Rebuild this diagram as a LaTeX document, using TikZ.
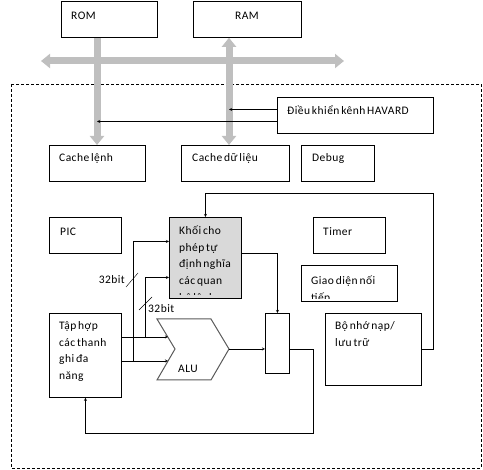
\documentclass[tikz,border=0pt]{standalone}
\usepackage{fontspec}
\setmainfont{Carlito}[LetterSpace=4,WordSpace=0.6]
\usepackage{tikz}
\usetikzlibrary{arrows.meta}

\tikzset{
	blk/.style={draw,line width=0.8pt,inner sep=0,anchor=north west},
	lbl/.style={font=\fontsize{11.5}{16.7}\selectfont,inner sep=0,anchor=base west},
	bus/.style={gray!50,line width=7pt}
}
\newcommand{\lines}[1]{\parbox[t]{80pt}{\raggedright #1}}

\begin{document}
\begin{tikzpicture}[x=1pt,y=-1pt,>=stealth]
			\useasboundingbox (0,0) rectangle (483,470);
			
			\draw[dash pattern=on 3pt off 2pt,line width=0.8pt] (11,84) rectangle (481,468);
			
			\node[blk,minimum width=96,minimum height=36] (rom) at (61,1) {};
			\node[blk,minimum width=108,minimum height=36] (ram) at (193,1) {};
			\node[blk,minimum width=156,minimum height=36] (havard) at (277,97) {};
			\node[blk,minimum width=96,minimum height=36] (cachel) at (49,145) {};
			\node[blk,minimum width=108,minimum height=36] (cached) at (181,145) {};
			\node[blk,minimum width=73,minimum height=36] (debug) at (301,145) {};
			\node[blk,minimum width=72,minimum height=36] (pic) at (49,217) {};
			\node[blk,minimum width=72,minimum height=81,fill=gray!30] (khoi) at (169,217) {};
			\node[blk,minimum width=72,minimum height=36] (timer) at (313,217) {};
			\node[blk,minimum width=96,minimum height=36] (giao) at (301,265) {};
			\node[blk,minimum width=72,minimum height=84] (taphop) at (49,313) {};
			\node[blk,minimum width=24,minimum height=60] (reg) at (265,313) {};
			\node[blk,minimum width=96,minimum height=72] (bonho) at (325,313) {};
			
			\node[lbl] (romt) at (71,19.5) {ROM};
			\node[lbl,anchor=base] (ramt) at (247,19.5) {RAM};
			\node[lbl] (havardt) at (287,114.5) {Điều khiển kênh HAVARD};
			\node[lbl] (cachelt) at (59,162) {Cache lệnh};
			\node[lbl] (cachedt) at (192,162) {Cache dữ liệu};
			\node[lbl] (debugt) at (312,162) {Debug};
			\node[lbl] (pict) at (60,235.5) {PIC};
			\node[lbl] (timert) at (323,235.5) {Timer};
			\node[lbl] (taphopt) at (59,329.5) {\lines{Tập hợp\\các thanh\\ghi đa\\năng}};
			\node[lbl] (bonhot) at (335,329.5) {\lines{Bộ nhớ nạp/\\lưu trữ}};
			\begin{scope}
				\clip (169,217) rectangle (241,295);
				\node[lbl] (khoit) at (179,234.5) {\lines{Khối cho\\phép tự\\định nghĩa\\các quan\\hệ lệnh}};
			\end{scope}
			\begin{scope}
				\clip (301,265) rectangle (397,298.5);
				\node[lbl] (giaot) at (311,284.5) {\lines{Giao diện nối\\tiếp}};
			\end{scope}
			
			% bus
			\coordinate (busl) at (41,61);
			\coordinate (busr) at (344,61);
			\coordinate (romx) at (97,0);
			\coordinate (ramx) at (229,0);
			\draw[bus,{Triangle[length=9pt,width=14pt]}-{Triangle[length=9pt,width=14pt]}] (busl) -- (busr);
			\draw[bus,-{Triangle[length=9pt,width=14pt]}] (romx |- rom.south) -- (romx |- cachel.north);
			\draw[bus,{Triangle[length=9pt,width=14pt]}-{Triangle[length=9pt,width=14pt]}] (ramx |- ram.south) -- (ramx |- cached.north);
			
			\coordinate (hv1) at ([yshift=6pt]havard.west);
			\coordinate (hv2) at ([yshift=-6pt]havard.west);
			\draw[->] (hv1) -- (ramx |- hv1);
			\draw[->] (hv2) -- (romx |- hv2);
			
			% ALU
			\coordinate (in1) at (168,337);
			\coordinate (in2) at (168,361);
			\coordinate (j1) at (145,337);
			\coordinate (j2) at (133,361);
			\coordinate (alutip) at (229,349);
			\draw[gray!70!black,line width=1pt] (157,319) -- (211,319) -- (alutip) -- (211,380) -- (157,380) -- (175,349) -- cycle;
			\node[lbl] (alu) at (178,373) {ALU};
			
			\draw[->] (taphop.east |- in1) -- (in1);
			\draw[->] (taphop.east |- in2) -- (in2);
			\draw[->] (j1) |- ([yshift=-19.5pt]khoi.west);
			\draw[->] (j2) |- ([yshift=16.5pt]khoi.west);
			\draw (126,287) -- (138,273);
			\draw (139,310) -- (152,297);
			\node[lbl,anchor=base east] (bit1) at (125,284) {32bit};
			\node[lbl] (bit2) at (148,312.5) {32bit};
			
			\draw[->] ([yshift=4.5pt]khoi.east) -| (reg.north);
			\draw[->] (alutip) -- (alutip -| reg.west);
			\coordinate (ret) at (313,433);
			\draw[->] (alutip -| reg.east) -| (ret) -| (taphop.south);
			\coordinate (fb) at (433,193);
			\draw[->] (bonho.east) -| (fb) -| (khoi.north);
\end{tikzpicture}
\end{document}
